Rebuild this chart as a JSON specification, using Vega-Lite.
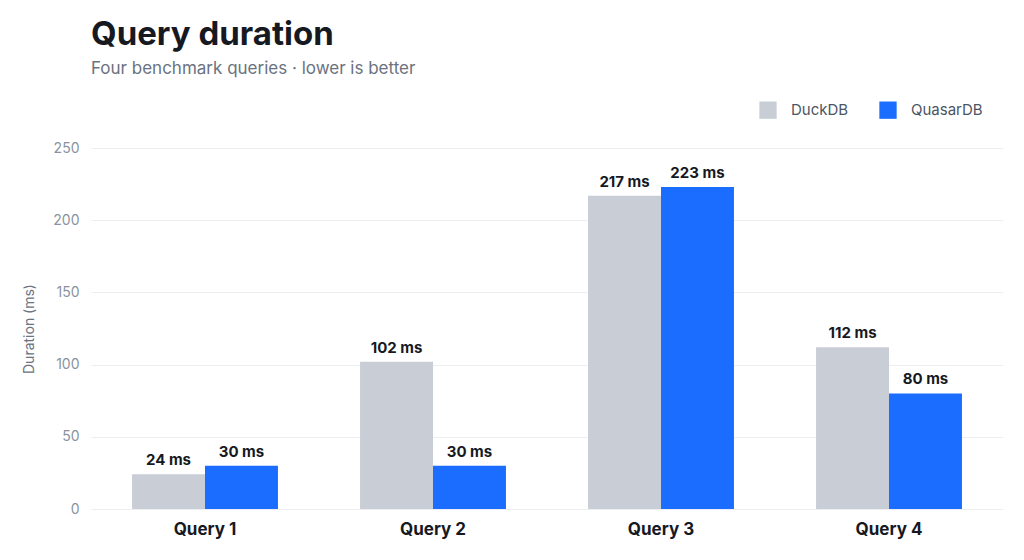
{
  "$schema": "https://vega.github.io/schema/vega-lite/v6.json",
  "autosize": {"type": "fit", "contains": "padding"},
  "width": 1024,
  "height": 560,
  "padding": {"left": 22, "right": 21, "top": 19, "bottom": 23},
  "background": "white",
  "title": {
    "text": "Query duration",
    "subtitle": "Four benchmark queries · lower is better",
    "anchor": "start",
    "frame": "group",
    "font": "Inter",
    "fontSize": 33,
    "fontWeight": "bold",
    "color": "#16191f",
    "subtitleFont": "Inter",
    "subtitleFontSize": 17,
    "subtitleColor": "#6b7280",
    "subtitlePadding": 9,
    "offset": 64
  },
  "data": {
    "values": [
      {"query": "Query 1", "engine": "DuckDB", "ms": 24},
      {"query": "Query 1", "engine": "QuasarDB", "ms": 30},
      {"query": "Query 2", "engine": "DuckDB", "ms": 102},
      {"query": "Query 2", "engine": "QuasarDB", "ms": 30},
      {"query": "Query 3", "engine": "DuckDB", "ms": 217},
      {"query": "Query 3", "engine": "QuasarDB", "ms": 223},
      {"query": "Query 4", "engine": "DuckDB", "ms": 112},
      {"query": "Query 4", "engine": "QuasarDB", "ms": 80}
    ]
  },
  "encoding": {
    "x": {
      "field": "query",
      "type": "nominal",
      "scale": {"paddingInner": 0.36, "paddingOuter": 0.18},
      "axis": {
        "title": null,
        "labelAngle": 0,
        "labelFont": "Inter",
        "labelFontSize": 17,
        "labelFontWeight": "bold",
        "labelColor": "#16191f",
        "labelPadding": 12,
        "ticks": false,
        "domain": false
      }
    },
    "xOffset": {"field": "engine", "type": "nominal", "scale": {"paddingInner": 0}},
    "y": {
      "field": "ms",
      "type": "quantitative",
      "scale": {"domain": [0, 250], "nice": false},
      "axis": {
        "title": "Duration (ms)",
        "titleFont": "Inter",
        "titleFontSize": 14,
        "titleFontWeight": "normal",
        "titleColor": "#6b7280",
        "titlePadding": 16,
        "labelFont": "Inter",
        "labelFontSize": 14,
        "labelColor": "#8a93a0",
        "labelPadding": 12,
        "values": [0, 50, 100, 150, 200, 250],
        "labelOverlap": false,
        "ticks": false,
        "domain": false,
        "gridColor": "#eceef1"
      }
    },
    "color": {
      "field": "engine",
      "type": "nominal",
      "scale": {"domain": ["DuckDB", "QuasarDB"], "range": ["#c9ced6", "#1a6dff"]},
      "legend": {
        "title": null,
        "orient": "none",
        "legendX": 668,
        "legendY": -47,
        "direction": "horizontal",
        "symbolType": "square",
        "symbolSize": 300,
        "symbolStrokeWidth": 0,
        "labelFont": "Inter",
        "labelFontSize": 15,
        "labelColor": "#4b5563",
        "columnPadding": 30,
        "labelOffset": 14
      }
    }
  },
  "layer": [
    {"mark": {"type": "bar"}},
    {
      "transform": [{"calculate": "datum.ms + ' ms'", "as": "label"}],
      "mark": {
        "type": "text",
        "dy": -14,
        "font": "Inter",
        "fontSize": 15,
        "fontWeight": "bold",
        "color": "#16191f"
      },
      "encoding": {
        "text": {"field": "label", "type": "nominal"},
        "color": {"value": "#16191f"}
      }
    }
  ],
  "config": {"view": {"stroke": null}}
}
